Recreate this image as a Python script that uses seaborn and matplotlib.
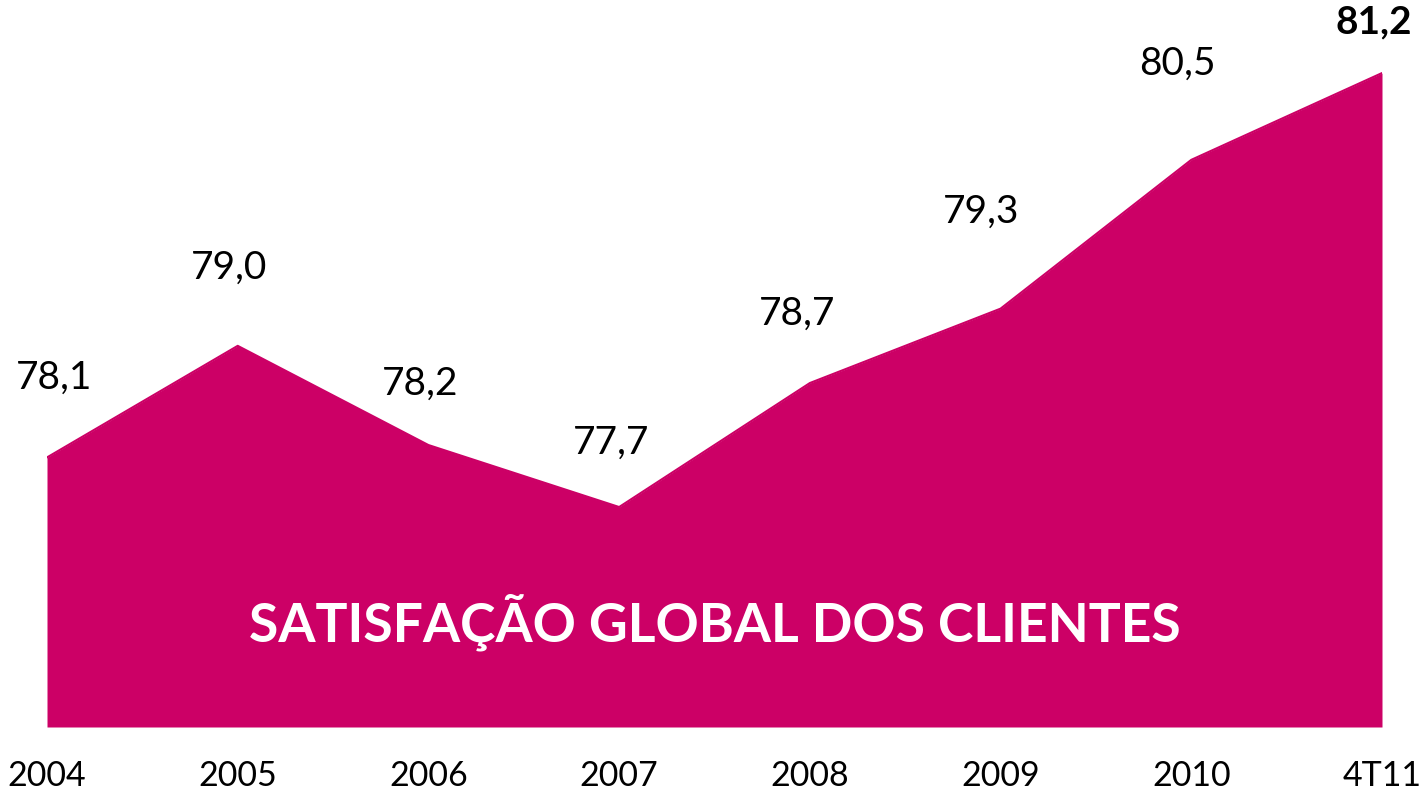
import matplotlib
matplotlib.use("Agg")
import matplotlib.pyplot as plt
import seaborn as sns
import numpy as np

periods = ["2004", "2005", "2006", "2007", "2008", "2009", "2010", "4T11"]
satisfaction = [78.1, 79.0, 78.2, 77.7, 78.7, 79.3, 80.5, 81.2]
value_labels = ["78,1", "79,0", "78,2", "77,7", "78,7", "79,3", "80,5", "81,2"]

# label offsets from each point, in pixels (style only)
label_dx = [7, -9, -8, -8, -13, -20, -14, -8]
label_dy = [80, 78, 61, 64, 69, 97, 96, 51]

MAGENTA = "#CC0066"
W, H = 1421, 792

sns.set_theme(style="white")
plt.rcParams["font.family"] = ["Lato", "DejaVu Sans"]

fig = plt.figure(figsize=(W / 100, H / 100), dpi=100)
ax = fig.add_axes([47 / W, (H - 727) / H, 1335 / W, 727 / H])

x = np.arange(len(periods))
ax.fill_between(x, 75.926, satisfaction, color=MAGENTA, lw=0)
sns.lineplot(x=x, y=satisfaction, ax=ax, color=MAGENTA, lw=1.5)

ax.set_xlim(0, len(periods) - 1)
ax.set_ylim(75.926, 81.789)
for s in ax.spines.values():
    s.set_visible(False)
ax.set_yticks([])
ax.set_xticks(x)
ax.set_xticklabels(periods, fontsize=24.5, color="black")
ax.tick_params(axis="x", length=0, pad=24)

for i, (v, lab) in enumerate(zip(satisfaction, value_labels)):
    last = i == len(satisfaction) - 1
    ax.annotate(lab, (x[i], v), xytext=(label_dx[i], label_dy[i]),
                textcoords="offset pixels", ha="center", va="center",
                fontsize=28, color="black",
                fontweight="bold" if last else "normal",
                annotation_clip=False)

ax.text(0.5, 0.144, "SATISFAÇÃO GLOBAL DOS CLIENTES", transform=ax.transAxes,
        ha="center", va="center", fontsize=38.5, fontweight="bold", color="white")

fig.savefig("out.png", dpi=100)
